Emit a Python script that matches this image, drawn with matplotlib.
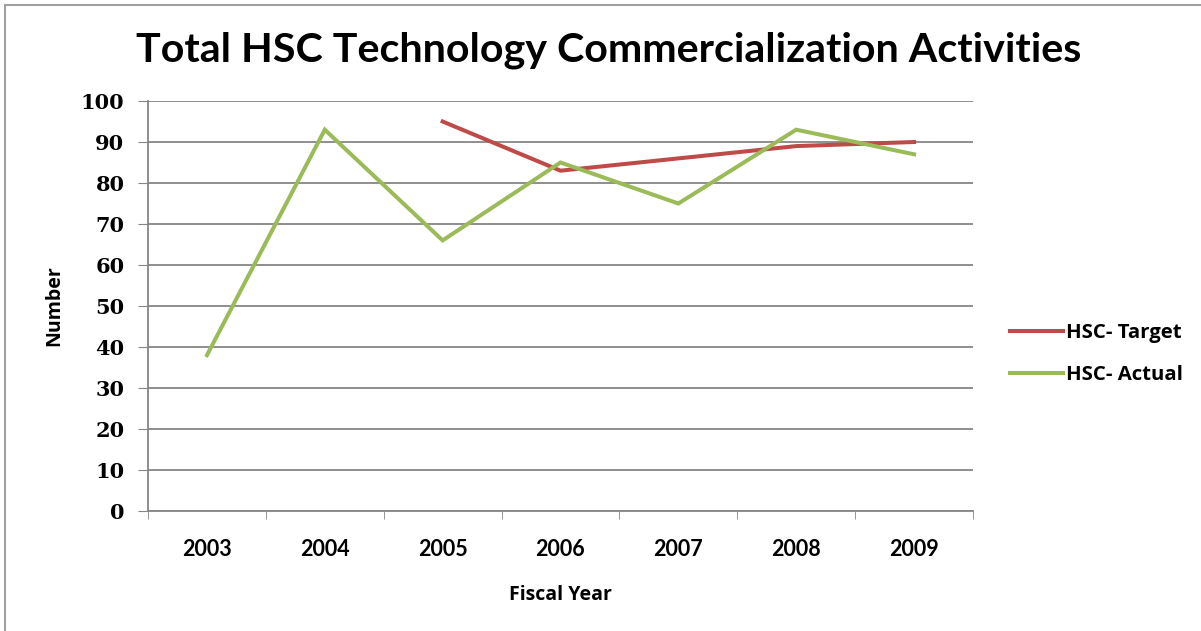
import matplotlib
matplotlib.use("Agg")
import matplotlib.pyplot as plt
from matplotlib.lines import Line2D
import numpy as np

years = ["2003", "2004", "2005", "2006", "2007", "2008", "2009"]
target = [np.nan, np.nan, 95, 83, 86, 89, 90]
actual = [38, 93, 66, 85, 75, 93, 87]
yticks = [0, 10, 20, 30, 40, 50, 60, 70, 80, 90, 100]

plt.rcParams['font.family'] = ['Lato', 'DejaVu Sans']

fig = plt.figure(figsize=(12.01, 6.31), dpi=100)
ax = fig.add_axes([148/1201, 1-511/631, (973-148)/1201, (511-101)/631])

x = np.arange(len(years))
ax.plot(x, target, color='#BE4B48', lw=2.9, label='HSC- Target', solid_joinstyle='miter')
ax.plot(x, actual, color='#9BBB59', lw=2.9, label='HSC- Actual', solid_joinstyle='miter')

ax.set_xlim(-0.5, len(years)-0.5)
ax.set_ylim(0, 100)
ax.set_yticks(yticks)
ax.set_yticklabels([str(v) for v in yticks], fontsize=15, fontweight='bold',
                   family=['DejaVu Serif'])
ax.set_xticks(x)
ax.set_xticklabels(years, fontsize=15.5, fontweight='bold')
ax.tick_params(axis='x', which='major', length=0, pad=20)
ax.set_xticks(np.arange(-0.5, len(years), 1.0), minor=True)
ax.tick_params(axis='x', which='minor', length=6, color='#868686', direction='out')
ax.tick_params(axis='y', length=7, color='#868686', direction='out', pad=10)
ax.grid(axis='y', color='#868686', lw=1.3)
ax.set_axisbelow(True)
for s in ['top', 'right']:
    ax.spines[s].set_visible(False)
for s in ['left', 'bottom']:
    ax.spines[s].set_color('#868686')
    ax.spines[s].set_linewidth(1.3)

ax.set_xlabel('Fiscal Year', fontsize=14, fontweight='bold', labelpad=18,
              family=['Open Sans'])
ax.set_ylabel('Number', fontsize=14, fontweight='bold', labelpad=12,
              family=['Open Sans'])

fig.text(609/1201, 1-50/631, 'Total HSC Technology Commercialization Activities',
         ha='center', va='center', fontsize=29.7, fontweight='bold')

fig.legend(loc='center left', bbox_to_anchor=(992/1201, 1-354/631), frameon=False,
           prop={'size': 14.7, 'weight': 'bold', 'family': 'Open Sans'},
           handlelength=2.6, handletextpad=0.1, labelspacing=1.05)

fig.add_artist(Line2D([4.5/1201, 4.5/1201], [0, 1-4.5/631], transform=fig.transFigure,
                      color='#A0A0A0', lw=1.5))
fig.add_artist(Line2D([4.5/1201, 1], [1-4.5/631, 1-4.5/631], transform=fig.transFigure,
                      color='#A0A0A0', lw=1.5))

fig.savefig('out.png', dpi=100)
